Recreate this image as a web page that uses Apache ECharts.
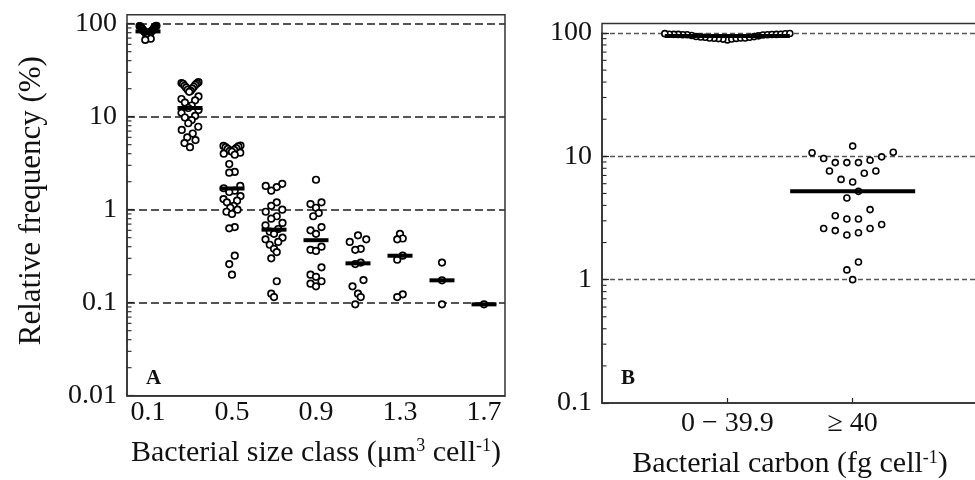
<!DOCTYPE html>
<html><head><meta charset="utf-8">
<script src="https://cdn.jsdelivr.net/npm/echarts@6/dist/echarts.min.js"></script>
<style>html,body{margin:0;padding:0;background:#fff}#c{width:975px;height:480px}</style>
</head><body><div id="c"></div>
<script>
// ---------- data ----------
const sizeClasses = ['0.1','0.3','0.5','0.7','0.9','1.1','1.3','1.5','1.7'];
const size01 = [95, 94.5, 94, 93.5, 93, 92, 91, 90, 89, 88, 87, 86, 85, 84.5, 84, 83, 82.5, 82, 81, 80, 79, 78, 77, 76, 75, 73, 71, 69, 67];
const size03 = [23.5, 23, 22.8, 22.5, 22, 21.5, 21, 20.5, 20, 19.5, 19, 18.5, 16.5, 15.5, 15, 14.2, 13.2, 12.4, 11.8, 11, 10.2, 9.8, 9.2, 8.5, 7.8, 7.2, 6.6, 6.0, 5.6, 5.2, 4.7];
const size05 = [4.9, 4.85, 4.8, 4.7, 4.6, 4.5, 4.4, 4.3, 4.2, 4.1, 4.0, 3.9, 3.1, 2.55, 2.5, 1.8, 1.7, 1.6, 1.55, 1.4, 1.3, 1.25, 1.2, 1.1, 1.05, 1.0, 0.95, 0.9, 0.65, 0.63, 0.32, 0.26, 0.2];
const size07 = [1.9, 1.8, 1.75, 1.6, 1.2, 1.1, 1.0, 0.95, 0.85, 0.8, 0.72, 0.68, 0.62, 0.58, 0.55, 0.5, 0.48, 0.45, 0.42, 0.38, 0.35, 0.3, 0.17, 0.125, 0.115];
const size09 = [2.1, 1.2, 1.15, 1.05, 0.92, 0.85, 0.65, 0.6, 0.55, 0.4, 0.37, 0.36, 0.24, 0.2, 0.19, 0.17, 0.16, 0.15];
const size11 = [0.53, 0.48, 0.45, 0.38, 0.37, 0.27, 0.26, 0.175, 0.15, 0.125, 0.115, 0.096];
const size13 = [0.55, 0.49, 0.48, 0.32, 0.29, 0.123, 0.115];
const size15 = [0.27, 0.174, 0.096];
const size17 = [0.096];
const medianA = [82.6, 12.4, 1.69, 0.61, 0.47, 0.265, 0.32, 0.174, 0.096];

const carbonClasses = ['', '0 \u2212 39.9', '\u2265 40', ''];
const carbonLow  = [87.9, 89.2, 89.3, 90.1, 90.4, 90.7, 91.1, 91.1, 91.1, 92.4, 92.4, 92.7, 93.5, 93.8, 94.8, 95.4, 96.3, 96.7, 96.9, 96.9, 97.2, 97.4, 97.4, 97.5, 97.6, 97.7, 98.6, 98.8, 99.0];
const carbonHigh = [12.1, 10.8, 10.7, 9.9, 9.6, 9.3, 8.9, 8.9, 8.9, 7.6, 7.6, 7.3, 6.5, 6.2, 5.2, 4.6, 3.7, 3.3, 3.1, 3.1, 2.8, 2.6, 2.6, 2.5, 2.4, 2.3, 1.39, 1.2, 1.0];
const medianB = [94.5, 5.2];

const sizeGroups = [size01, size03, size05, size07, size09, size11, size13, size15, size17];
const carbonGroups = [carbonLow, carbonHigh];

// ---------- layout helpers ----------
const FONT = 'Liberation Serif';
const gA = {left: 127, top: 23.7, width: 378, height: 372};
const gB = {left: 602, top: 33, width: 376, height: 370};

// dot-plot layout: bins in log space, points in a bin spread horizontally (px)
function dotOffsets(values, binH, smax, wmax) {
  const bins = {};
  values.forEach((v, i) => {
    const b = Math.floor((2 - Math.log10(v)) / binH + 1e-9);
    (bins[b] = bins[b] || []).push(i);
  });
  const off = new Array(values.length).fill(0);
  Object.keys(bins).forEach(k => {
    const idx = bins[k];
    idx.sort((a, b) => values[a] - values[b]);
    const n = idx.length;
    const sp = n > 1 ? Math.min(smax, wmax / (n - 1)) : 0;
    const slots = [];
    for (let j = 0; j < n; j++) slots.push(j - (n - 1) / 2);
    slots.sort((a, b) => Math.abs(a) - Math.abs(b) || a - b);
    idx.forEach((vi, j) => { off[vi] = slots[j] * sp; });
  });
  return off;
}

function pointsData(groups, catOffset, binH, smax, wmax) {
  const out = [];
  groups.forEach((vals, gi) => {
    const off = dotOffsets(vals, binH, smax, wmax);
    vals.forEach((v, i) => out.push({value: [gi + catOffset, v], symbolOffset: [off[i], 0]}));
  });
  return out;
}

function minorTicks(minExp, maxExp) {
  const t = [];
  for (let e = minExp; e < maxExp; e++) for (let m = 2; m <= 9; m++) t.push([0, m * Math.pow(10, e)]);
  return t;
}

const fmt = v => String(Number(Number(v).toPrecision(2)));

function yAxisCfg(gi, min, max, dash, dashW) {
  return {
    type: 'log', logBase: 10, min: min, max: max, gridIndex: gi, interval: 1,
    axisLine: {show: true, lineStyle: {color: '#222', width: 1.5}},
    axisTick: {show: true, inside: true, length: 7, lineStyle: {color: '#222', width: 1.2}},
    axisLabel: {fontFamily: FONT, fontSize: 28, color: '#111', margin: 10, formatter: fmt},
    splitLine: {show: true, showMinLine: false, lineStyle: {type: dash, color: '#555', width: dashW}},
    minorTick: {show: false}
  };
}

function minorTickSeries(xi, yi, data) {
  return {
    type: 'custom', xAxisIndex: xi, yAxisIndex: yi, data: data, silent: true, z: 5,
    encode: {x: 0, y: 1},
    renderItem: (params, api) => {
      const p = api.coord([api.value(0), api.value(1)]);
      const x0 = params.coordSys.x;
      return {type: 'line', shape: {x1: x0, y1: p[1], x2: x0 + 4.5, y2: p[1]},
              style: {stroke: '#222', lineWidth: 1.1}};
    }
  };
}

const nameRich = {
  sup: {fontFamily: FONT, fontSize: 18, color: '#111', verticalAlign: 'top', lineHeight: 18}
};

const chart = echarts.init(document.getElementById('c'), null, {renderer: 'canvas'});
chart.setOption({
  animation: false,
  backgroundColor: '#fff',
  grid: [
    Object.assign({containLabel: false, outerBoundsMode: 'none'}, gA),
    Object.assign({containLabel: false, outerBoundsMode: 'none'}, gB)
  ],
  xAxis: [
    {
      type: 'category', gridIndex: 0, data: sizeClasses, boundaryGap: true,
      axisLine: {lineStyle: {color: '#222', width: 1.5}},
      axisTick: {inside: true, alignWithLabel: true, interval: 0, length: 5, lineStyle: {color: '#222', width: 1.2}},
      axisLabel: {interval: 1, fontFamily: FONT, fontSize: 28, color: '#111', margin: 3},
      splitLine: {show: false},
      name: 'Bacterial size class (\u03bcm{sup|3} cell{sup|-1})',
      nameLocation: 'middle', nameGap: 42,
      nameTextStyle: {fontFamily: FONT, fontSize: 30, color: '#111', rich: nameRich}
    },
    {
      type: 'category', gridIndex: 1, data: carbonClasses, boundaryGap: false,
      axisLine: {lineStyle: {color: '#222', width: 1.5}},
      axisTick: {inside: true, length: 5, interval: i => i === 1 || i === 2, lineStyle: {color: '#222', width: 1.2}},
      axisLabel: {interval: 0, fontFamily: FONT, fontSize: 28, color: '#111', margin: 7},
      splitLine: {show: false},
      name: 'Bacterial carbon (fg cell{sup|-1})',
      nameLocation: 'middle', nameGap: 46,
      nameTextStyle: {fontFamily: FONT, fontSize: 30, color: '#111', rich: nameRich}
    }
  ],
  yAxis: [
    Object.assign(yAxisCfg(0, 0.01, 100, [8, 4], 1.8), {
      name: 'Relative frequency (%)', nameLocation: 'middle', nameGap: 80, nameRotate: 90,
      nameTextStyle: {fontFamily: FONT, fontSize: 31, color: '#111', padding: [0, 0, 0, 18]}
    }),
    yAxisCfg(1, 0.1, 100, [5, 3], 1.3)
  ],
  graphic: [
    {type: 'rect', silent: true, z: 10,
     shape: {x: gA.left, y: gA.top - 9, width: gA.width, height: gA.height + 9},
     style: {fill: 'none', stroke: '#333', lineWidth: 1.5}},
    {type: 'rect', silent: true, z: 10,
     shape: {x: gB.left, y: gB.top - 9.5, width: gB.width, height: gB.height + 9.5},
     style: {fill: 'none', stroke: '#333', lineWidth: 1.5}},
    {type: 'text', left: gA.left + 19, top: gA.top + gA.height - 28,
     style: {text: 'A', font: 'bold 21px "Liberation Serif"', fill: '#111'}},
    {type: 'text', left: gB.left + 19, top: gB.top + gB.height - 35,
     style: {text: 'B', font: 'bold 21px "Liberation Serif"', fill: '#111'}}
  ],
  series: [
    minorTickSeries(0, 0, minorTicks(-2, 2)),
    minorTickSeries(1, 1, minorTicks(-1, 2)),
    {
      type: 'scatter', xAxisIndex: 0, yAxisIndex: 0, symbol: 'circle', symbolSize: 6.5,
      itemStyle: {color: '#fff', borderColor: '#000', borderWidth: 1.7, opacity: 1},
      data: pointsData(sizeGroups, 0, 0.153, 5.5, 17), z: 3
    },
    {
      type: 'scatter', xAxisIndex: 0, yAxisIndex: 0, symbol: 'rect', symbolSize: [25, 4],
      itemStyle: {color: '#000', opacity: 1}, data: medianA.map((m, i) => [i, m]), z: 4
    },
    {
      type: 'scatter', xAxisIndex: 1, yAxisIndex: 1, symbol: 'circle', symbolSize: 6,
      itemStyle: {color: '#fff', borderColor: '#000', borderWidth: 1.6, opacity: 1},
      data: pointsData(carbonGroups, 1, 0.153, 11.6, 125), z: 3
    },
    {
      type: 'scatter', xAxisIndex: 1, yAxisIndex: 1, symbol: 'rect', symbolSize: [125, 4],
      itemStyle: {color: '#000', opacity: 1}, data: medianB.map((m, i) => [i + 1, m]), z: 4
    }
  ]
});
</script>
</body></html>
